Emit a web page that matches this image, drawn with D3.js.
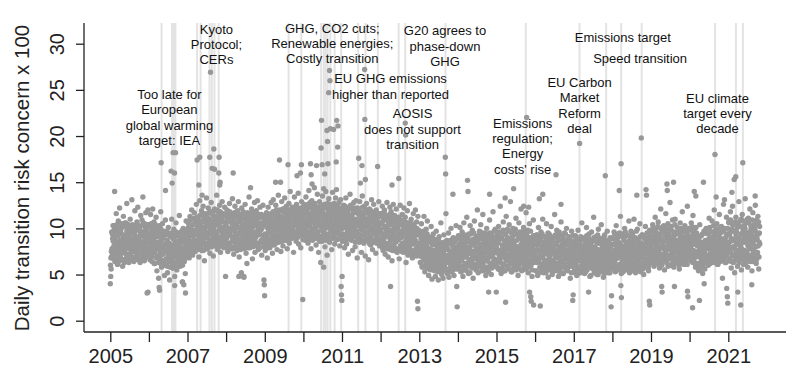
<!DOCTYPE html>
<html>
<head>
<meta charset="utf-8">
<script src="https://cdn.jsdelivr.net/npm/d3@7"></script>
<style>
body { margin: 0; background: #fff; }
text { font-family: "Liberation Sans", Arial, sans-serif; }
</style>
</head>
<body>
<script>
// daily concern values (one sample every ~4 days, per year)
var v2005 = [4.0,4.8,5.6,6.9,7.8,9.4,7.1,8.6,10.3,7.5,8.9,6.4,9.7,8.2,11.6,7.7,8.5,6.1,9.2,10.8,7.3,8.0,12.2,8.7,6.8,9.5,7.9,10.1,8.3,5.9,9.0,11.3,7.6,8.8,6.6,10.6,9.3,7.2,8.1,12.7,9.8,7.0,8.4,10.4,6.3,9.1,7.8,11.0,8.6,7.4,9.6,13.1,8.2,6.9,10.2,8.9,7.5,9.4,11.9,8.0,6.7,9.9,8.5,10.7,7.7,12.3,9.0,7.1,8.7,10.0,6.5,9.5,11.4,8.3,7.6,10.9,9.2,13.4,8.1,7.3,9.7,10.5,8.8,6.8,11.7,9.4,7.9,10.3,8.6,12.0,9.1];
var v2006 = [8.9,10.4,7.6,9.2,11.5,8.1,6.9,9.8,8.4,12.1,7.3,9.0,10.7,8.6,6.2,9.5,7.8,11.2,8.3,5.4,9.1,7.0,10.2,4.6,8.5,6.6,9.7,7.4,11.8,8.0,5.8,8.8,10.5,7.2,6.4,9.3,7.9,4.9,8.2,10.9,7.5,6.1,9.6,8.7,5.2,7.7,10.1,6.8,8.4,4.4,7.1,9.4,6.5,8.0,11.0,7.6,5.7,8.9,6.9,9.9,7.3,4.8,8.3,6.3,10.6,7.8,5.5,8.6,7.0,9.2,6.0,7.4,11.4,8.1,5.9,7.7,9.5,6.7,8.5,4.2,7.2,10.0,8.8,6.4,9.0,7.5,5.1,8.2,10.8,7.9,9.6];
var v2007 = [8.6,7.4,10.1,8.9,6.8,9.5,11.3,8.2,7.7,9.9,12.0,8.5,7.1,10.4,9.2,8.0,11.7,9.6,7.5,10.8,8.7,12.6,9.3,7.9,10.2,11.1,8.4,6.9,9.8,13.0,10.5,8.1,9.4,11.9,7.6,10.7,9.0,12.4,8.8,10.0,6.5,9.7,11.5,8.3,10.9,13.3,9.1,7.8,10.3,12.2,9.5,8.6,11.0,7.3,10.6,9.9,12.8,8.0,10.1,11.6,9.4,7.0,10.8,8.9,12.1,9.6,11.3,8.2,10.4,13.6,9.2,7.7,10.9,11.8,8.5,9.8,12.5,10.2,7.4,11.1,9.0,10.7,12.9,8.7,9.5,11.4,7.9,10.0,12.3,9.3,10.6];
var v2008 = [10.3,8.9,12.0,9.6,7.5,11.2,10.0,8.4,12.7,9.3,10.8,7.8,11.5,9.9,8.6,13.2,10.4,9.1,7.2,11.0,9.7,12.4,8.2,10.6,9.4,11.8,7.6,10.1,8.8,12.9,9.5,6.9,10.7,11.4,8.5,9.8,5.2,12.2,10.3,8.0,9.2,11.1,4.7,10.5,8.7,12.6,9.0,7.3,10.9,6.2,11.7,9.4,8.3,10.2,13.4,9.7,7.9,11.3,10.0,8.6,12.1,9.3,6.7,10.8,11.6,8.9,9.6,12.8,7.4,10.4,9.1,11.9,8.1,10.6,13.0,9.8,7.7,11.2,9.5,10.1,12.3,8.4,9.9,11.5,7.1,10.3,8.8,12.5,9.2,10.7,8.0];
var v2009 = [9.0,7.6,10.4,8.5,11.7,9.3,6.8,10.0,12.3,8.9,9.7,11.2,7.9,10.6,8.4,12.8,9.5,11.0,7.3,10.2,13.1,9.1,8.2,11.6,10.4,9.8,12.5,8.6,10.9,7.7,11.4,9.6,13.6,10.1,8.8,12.0,9.3,11.1,7.5,10.7,12.9,9.0,10.3,8.1,11.8,10.5,9.4,13.3,8.7,11.0,10.2,12.4,9.9,7.8,11.5,10.8,9.2,12.7,8.4,10.6,14.0,9.7,11.3,8.9,10.0,12.2,9.5,11.9,7.4,10.9,13.4,9.1,10.4,11.7,8.6,12.6,10.3,9.0,11.2,13.8,8.3,10.7,12.1,9.6,11.4,7.9,10.1,12.9,9.3,11.0,8.8];
var v2010 = [11.3,9.8,12.6,10.5,8.7,11.9,13.4,10.1,9.2,12.2,10.9,8.4,11.6,14.1,10.3,9.5,12.8,11.1,7.8,10.7,13.0,9.9,11.5,8.9,12.4,10.6,14.4,9.3,11.8,10.0,8.2,12.1,10.8,13.7,9.6,11.4,7.4,10.4,12.9,9.1,11.0,6.3,12.5,10.2,8.6,13.5,11.7,9.7,5.8,10.9,12.3,8.0,11.2,14.0,9.4,10.5,7.1,12.7,11.3,9.0,13.2,10.1,8.5,11.9,10.7,12.6,9.8,7.7,11.5,13.9,10.3,9.2,12.0,10.9,8.3,11.1,13.3,9.6,10.6,12.4,8.8,11.7,10.0,9.4,12.8,11.2,8.1,10.4,13.1,9.9,11.6];
var v2011 = [10.0,8.6,11.8,9.4,12.5,10.7,7.9,11.2,9.1,13.3,10.4,8.3,11.6,9.8,12.0,7.2,10.9,11.4,9.5,13.7,10.2,8.8,12.3,11.0,9.6,7.6,11.9,10.5,12.8,9.3,10.1,8.0,11.7,13.0,9.7,10.8,6.8,12.2,10.3,9.0,11.5,8.5,12.9,10.6,9.2,11.1,7.4,10.0,13.5,9.8,11.3,8.7,10.5,12.4,9.4,7.0,11.0,10.2,12.7,8.9,10.8,9.6,11.8,6.6,10.4,12.1,9.1,11.4,8.2,10.7,13.1,9.9,7.7,11.2,10.1,12.6,8.6,9.5,11.7,10.3,7.3,12.0,9.7,10.9,8.4,11.5,9.0,12.9,10.0,8.1,11.3];
var v2012 = [9.8,11.6,8.4,10.5,12.4,9.1,7.6,10.9,8.9,12.0,10.2,7.2,11.3,9.6,8.3,12.8,10.0,9.3,6.9,11.1,9.7,8.0,12.3,10.4,8.7,11.8,9.0,6.5,10.7,9.5,12.6,8.2,10.1,11.4,7.8,9.9,8.6,12.1,10.3,7.4,9.2,11.0,8.8,10.6,6.7,9.4,12.5,8.1,10.8,9.0,7.5,11.5,9.7,8.4,10.2,12.2,7.9,9.3,11.2,8.5,6.3,10.0,9.6,11.9,8.0,7.1,10.4,9.1,12.7,8.7,9.9,7.7,11.0,8.3,10.5,6.8,9.4,11.6,8.9,7.3,10.1,9.2,12.0,8.6,7.0,10.7,9.5,8.1,11.3,7.6,9.8];
var v2013 = [8.4,7.0,9.6,6.3,8.9,10.5,7.5,5.8,8.1,9.2,6.8,11.3,7.7,5.3,8.6,7.2,9.9,6.0,8.0,10.8,6.6,7.8,4.9,9.0,7.1,5.6,8.5,6.4,10.2,7.4,4.5,8.2,6.9,9.4,5.9,7.6,6.2,8.8,4.8,7.0,9.7,6.5,5.4,8.3,7.3,4.4,6.7,9.1,5.7,7.9,6.1,10.6,7.2,5.0,8.4,6.6,4.6,7.5,9.3,6.0,8.1,5.5,7.0,11.6,6.4,8.7,5.2,7.7,6.3,9.5,4.7,7.1,8.5,5.8,6.8,10.0,7.4,5.3,8.2,6.5,9.0,6.9,4.9,7.8,8.9,6.2,7.3,10.3,5.6,8.0,7.2];
var v2014 = [7.6,9.2,5.9,8.3,6.8,10.1,7.2,5.3,8.7,6.5,9.6,7.9,4.8,8.1,10.6,6.9,7.4,9.0,5.7,8.5,7.0,11.2,6.2,8.9,7.7,5.1,9.4,6.6,8.0,10.3,7.3,5.8,8.6,6.4,9.8,7.5,4.6,8.2,7.0,10.8,6.1,8.8,7.6,5.5,9.1,6.7,12.0,7.8,5.2,8.4,7.1,9.7,6.3,8.0,10.4,5.9,7.4,8.9,6.6,11.5,7.2,5.4,8.6,9.5,6.8,7.9,4.9,8.3,10.0,6.5,7.7,9.2,5.6,8.1,7.0,10.9,6.2,8.7,7.5,5.0,9.3,6.9,8.5,11.8,7.3,6.0,8.8,7.8,9.9,6.4,8.2];
var v2015 = [7.9,6.3,9.1,8.4,5.6,10.2,7.2,8.8,6.7,12.4,7.6,5.1,8.9,9.6,6.9,7.4,10.7,6.1,8.2,7.7,5.4,9.3,8.0,11.3,6.5,7.8,9.9,5.9,8.6,7.1,10.4,6.8,8.3,12.9,7.5,5.3,9.0,7.9,6.4,10.0,8.5,6.0,7.3,9.7,5.7,8.1,11.1,7.0,8.7,6.6,9.4,4.9,7.6,10.6,8.0,6.2,8.9,7.2,12.1,6.7,8.4,9.5,5.5,7.7,10.1,6.9,8.2,7.4,5.8,9.2,11.7,6.4,8.6,7.0,9.8,5.2,8.0,7.5,10.5,6.1,8.8,7.3,6.6,9.0,4.8,7.8,8.3,10.9,6.3,7.6,8.5];
var v2016 = [7.0,8.6,5.4,9.3,6.8,7.7,4.9,8.2,10.1,6.4,7.5,8.9,5.8,7.2,9.6,6.1,8.0,6.9,11.0,7.4,5.2,8.5,6.6,9.1,7.8,5.6,8.3,10.5,6.3,7.6,8.8,4.7,7.1,9.4,6.7,8.1,5.9,7.3,10.2,6.5,8.7,5.3,7.9,9.0,6.0,7.4,11.5,6.8,8.4,5.7,7.0,9.8,6.2,8.6,7.5,4.8,8.0,6.9,9.3,5.5,7.7,10.7,6.4,8.2,7.2,5.1,8.9,6.6,7.8,9.5,6.1,7.3,5.8,8.4,10.0,6.7,7.6,5.4,8.8,7.0,9.1,6.3,7.9,4.6,8.3,6.8,9.7,7.4,5.9,8.1,7.1];
var v2017 = [6.8,8.3,5.5,7.6,9.2,6.2,7.1,4.9,8.0,6.6,9.8,7.3,5.8,8.5,6.9,7.7,5.2,8.8,6.4,10.6,7.0,5.6,8.1,7.4,6.0,9.0,6.7,8.4,5.3,7.8,10.1,6.3,7.2,8.7,5.9,6.8,9.4,7.5,4.8,8.2,6.5,7.9,9.6,5.7,7.0,8.6,6.1,11.2,7.3,5.4,8.0,6.9,9.1,6.2,7.7,5.0,8.4,7.1,9.9,6.6,7.5,5.6,8.9,6.4,7.2,10.4,5.9,8.1,6.8,7.6,4.7,8.7,6.3,9.3,7.0,5.5,8.3,7.8,6.0,9.7,6.7,7.4,5.2,8.5,7.1,6.5,9.0,7.9,5.8,8.2,6.9];
var v2018 = [7.4,8.9,5.9,7.0,9.6,6.5,8.2,5.3,7.7,10.3,6.8,7.2,8.6,5.6,7.9,9.1,6.1,8.4,6.9,11.3,7.5,5.1,8.0,6.6,9.4,7.1,5.8,8.7,7.6,10.0,6.3,8.1,7.3,5.5,9.2,6.7,7.8,8.5,6.0,10.8,7.0,5.4,8.3,7.4,9.7,6.4,8.0,6.9,5.7,8.8,7.6,11.0,6.2,7.9,9.0,5.2,7.3,8.6,6.6,9.9,7.1,5.9,8.4,7.7,6.3,10.5,7.0,8.2,5.6,7.5,9.3,6.8,8.0,7.2,5.0,8.9,6.5,7.8,10.2,6.1,8.5,7.4,9.5,6.7,7.9,5.8,8.7,7.1,9.8,6.4,8.1];
var v2019 = [8.3,6.6,9.7,7.5,10.4,7.0,8.8,5.9,9.1,7.8,11.2,6.8,8.5,9.5,7.3,6.2,8.9,10.7,7.6,8.1,5.7,9.4,7.2,12.1,8.6,6.5,9.9,7.9,8.3,10.2,6.9,8.0,5.5,9.6,7.4,11.6,8.7,6.3,9.0,7.7,10.5,8.2,6.7,9.3,7.1,12.8,8.4,6.0,9.8,7.6,8.9,10.9,7.0,8.1,5.8,9.2,7.5,11.0,8.6,6.4,9.5,7.8,10.1,6.9,8.3,9.7,7.3,5.6,8.8,10.6,7.2,8.0,9.4,6.6,11.8,8.5,7.7,9.1,6.1,8.2,10.3,7.4,8.9,6.8,9.6,7.9,12.4,8.4,7.0,9.0,8.6];
var v2020 = [8.5,7.1,9.8,8.0,10.6,6.7,9.2,7.6,11.4,8.3,6.4,9.5,7.3,8.8,5.8,10.1,7.0,8.6,6.2,9.0,7.5,5.4,8.2,6.9,10.4,7.7,5.9,8.5,6.6,9.3,7.2,5.1,8.0,6.5,9.7,7.4,5.6,8.7,7.0,10.0,6.3,8.1,7.8,9.4,6.0,8.4,11.1,7.2,8.9,6.8,9.6,7.5,8.2,10.8,6.4,8.6,7.1,9.1,12.0,7.8,8.3,6.7,9.9,7.4,10.5,8.0,6.1,9.2,7.7,8.8,11.5,7.0,8.4,9.5,6.5,10.2,7.9,8.7,6.9,9.8,12.6,7.6,8.1,10.0,6.3,9.0,7.3,11.2,8.5,7.8,9.4];
var v2021 = [8.2,10.7,6.5,9.3,7.4,11.8,8.6,5.7,9.9,7.1,12.4,8.0,6.3,10.5,8.8,5.2,9.6,7.7,11.2,6.9,8.4,10.1,5.9,9.0,7.5,12.9,8.3,6.6,10.8,7.9,9.4,5.5,8.7,11.5,7.2,9.8,6.1,8.5,10.3,7.6,13.2,8.9,6.8,9.5,7.3,11.0,5.8,8.1,10.6,7.0,9.2,12.1,6.4,8.6,10.0,7.8,5.4,9.7,11.7,8.3,6.7,10.4,7.5,9.1,12.5,8.0,6.2,10.9,8.8,7.4,11.3,9.4,5.6,8.5,10.2];

// the in-between days (same reading, offset by two days)
var b2005 = [6.0,6.8,7.5,9.6,7.0,8.9,10.3,6.7,8.1,9.9,7.3,10.1,8.5,6.5,9.2,10.4,7.8,6.9,9.5,8.2,6.4,10.0,8.7,7.1,9.8,7.6,10.5,8.0,6.6,9.3,7.4,10.2,8.6,6.3,9.0,7.7,10.6,8.3,6.8,9.7,7.2,10.3,8.8,6.5,9.4,7.9,10.1,7.0,8.4,9.9,6.7,8.9,10.4,7.5,8.1,6.4,9.6,7.8,10.2,8.6,6.9,9.1,7.3,10.5,8.2,6.6,9.8,7.6,10.0,8.7,6.3,9.3,7.9,10.3,8.0,6.8,9.5,7.2,10.6,8.5,6.5,9.0,7.7,10.1,8.3,7.0,9.7,7.4,10.4,8.9,7.6];
var b2006 = [8.5,10.2,6.6,9.4,7.3,10.5,8.0,6.4,9.8,7.7,10.1,8.7,6.2,9.1,7.5,10.4,8.2,6.8,9.6,7.0,10.0,8.4,6.3,9.2,7.8,10.3,6.9,8.6,9.9,6.1,8.1,9.5,7.2,6.5,9.0,7.6,9.7,6.0,8.3,9.3,6.7,7.9,9.6,5.9,8.5,7.1,9.4,6.4,8.0,9.1,5.8,7.4,9.5,6.6,8.2,6.1,9.0,7.7,5.7,8.8,6.9,9.3,6.3,7.5,9.6,5.9,8.1,7.0,9.2,6.5,8.4,7.8,9.5,6.2,7.2,8.9,6.7,9.7,7.6,6.0,8.6,7.3,9.4,6.4,8.0,7.1,9.8,6.8,8.7,7.4,9.1];
var b2007 = [8.8,10.6,7.2,9.5,8.1,10.9,7.6,9.9,8.5,11.0,7.4,9.2,10.4,7.9,8.7,11.1,7.5,9.8,8.3,10.7,7.8,9.4,11.2,8.0,10.0,7.7,10.8,8.9,9.6,11.4,8.2,10.3,7.9,9.1,11.5,8.6,10.1,7.6,11.0,9.3,8.4,11.6,9.7,8.1,10.5,7.8,11.3,9.0,10.2,8.3,11.7,9.5,8.0,10.9,8.7,11.8,9.9,8.2,10.6,9.2,11.4,8.5,10.0,11.9,8.1,9.6,11.1,8.8,10.4,9.3,12.0,8.4,10.7,9.0,11.5,8.0,10.2,11.8,8.9,9.7,11.2,8.3,10.8,9.4,11.6,8.6,10.1,9.1,11.3,8.2,10.5];
var b2008 = [10.0,11.6,8.4,10.9,7.9,11.2,9.3,8.2,11.8,9.6,10.7,8.0,11.4,9.1,10.4,7.8,11.0,9.8,8.6,11.7,10.2,8.3,9.5,11.3,7.9,10.6,9.0,11.9,8.5,10.1,9.4,11.1,8.1,10.8,7.7,9.7,11.5,8.8,10.3,9.2,11.8,8.4,10.0,7.8,11.2,9.5,8.9,10.6,11.4,8.2,9.9,10.9,7.9,9.3,11.6,8.7,10.4,9.1,11.0,8.3,10.7,9.6,11.8,8.0,10.2,9.4,11.3,8.6,10.5,9.0,11.7,8.1,10.8,9.7,11.1,8.4,10.1,9.3,11.5,7.9,10.6,9.8,8.7,11.2,10.0,8.5,11.4,9.2,10.3,8.8,11.0];
var b2009 = [9.4,11.0,8.1,10.3,8.7,11.4,9.0,7.9,10.8,9.7,11.3,8.4,10.1,8.9,11.6,9.5,8.2,10.7,9.2,11.8,8.6,10.4,9.9,11.2,8.3,10.9,9.3,12.0,8.8,10.5,9.6,11.5,8.5,10.2,9.1,11.9,8.9,10.8,9.7,11.3,8.6,10.0,12.1,9.4,11.0,8.8,10.6,9.9,12.2,9.2,11.4,8.7,10.3,11.7,9.5,10.9,8.9,12.0,9.8,11.1,10.2,9.0,11.8,10.5,9.3,12.3,10.0,11.5,9.1,10.7,12.1,9.6,11.2,10.4,9.4,12.4,10.8,9.7,11.6,10.1,9.2,12.0,10.6,11.3,9.5,10.9,12.2,9.8,11.0,10.3,11.7];
var b2010 = [10.9,12.4,9.4,11.6,8.9,12.1,10.2,11.8,9.1,10.7,12.6,9.6,11.3,8.8,12.2,10.4,11.0,9.3,12.5,10.0,11.7,8.7,10.8,12.0,9.5,11.4,10.1,12.7,9.0,11.1,10.5,8.9,12.3,10.3,11.5,9.2,11.9,10.6,8.6,11.2,12.4,9.8,10.9,8.8,12.1,10.2,11.6,9.4,10.7,12.6,9.1,11.3,10.0,8.7,12.2,10.8,11.5,9.3,12.0,10.4,9.0,11.8,10.6,12.5,9.6,11.1,8.9,12.3,10.3,11.4,9.7,10.9,12.7,9.2,11.6,10.1,8.8,12.0,10.5,11.2,9.5,12.4,10.7,9.9,11.7,8.9,12.1,10.4,11.0,9.3,11.5];
var b2011 = [10.5,12.2,9.0,11.4,8.6,11.8,10.1,12.4,9.3,10.8,8.8,12.0,10.4,9.6,11.6,8.9,12.3,10.2,11.1,9.2,12.5,10.7,8.7,11.3,9.8,12.1,10.0,11.7,9.1,10.6,12.2,8.5,11.0,9.7,11.9,10.3,8.9,12.0,10.9,9.4,11.5,8.6,10.4,11.8,9.9,8.8,11.2,10.1,12.3,9.3,10.7,8.4,11.6,9.6,10.2,12.0,8.9,11.0,9.5,11.7,10.4,8.6,10.9,9.8,11.4,8.3,10.6,9.1,11.9,10.0,8.7,11.2,9.4,10.8,8.5,11.5,9.9,10.3,8.8,11.8,9.2,10.7,8.4,11.1,9.7,10.1,8.9,11.6,9.5,10.5,8.7];
var b2012 = [9.9,11.6,8.3,10.7,7.9,11.2,9.4,8.6,11.8,10.1,8.0,10.9,9.2,11.4,7.8,10.3,9.7,11.0,8.4,10.6,9.0,11.5,7.7,9.8,10.5,8.2,11.1,9.3,7.6,10.8,8.9,11.3,9.6,7.9,10.2,8.5,11.0,9.1,7.5,10.6,8.7,9.9,11.2,7.8,9.4,10.4,8.1,9.0,10.9,7.6,9.7,8.4,10.5,7.4,9.3,10.1,8.0,9.6,10.7,7.7,8.8,10.3,7.3,9.2,8.5,10.6,7.9,9.5,8.2,10.0,7.2,8.9,9.8,7.6,8.6,10.4,7.4,9.1,8.3,10.2,7.1,8.7,9.6,7.8,8.4,10.0,7.5,9.3,8.0,9.7,7.2];
var b2013 = [7.9,9.5,6.3,8.4,7.0,9.2,5.9,8.1,7.4,9.7,6.6,8.7,5.8,7.6,9.0,6.2,8.3,7.1,9.4,5.7,7.8,6.5,8.9,6.0,7.3,8.6,5.5,7.7,6.8,9.1,5.9,7.0,8.4,6.3,7.5,5.4,8.8,6.7,7.2,5.6,8.2,6.1,7.9,5.3,7.4,6.6,8.6,5.8,7.1,6.4,8.3,5.2,7.6,6.9,5.5,8.0,6.2,7.3,8.5,5.7,6.8,7.7,5.4,8.1,6.5,7.0,5.1,7.8,6.3,8.4,5.6,7.2,6.6,8.7,5.3,7.5,6.0,8.2,6.9,5.5,7.9,6.4,8.5,5.8,7.1,6.7,8.8,5.9,7.4,6.2,8.0];
var b2014 = [7.0,8.9,5.6,8.1,6.4,9.2,7.5,5.3,8.6,6.8,9.0,5.9,7.7,8.4,5.5,7.2,9.3,6.2,8.0,6.9,5.4,8.7,7.4,9.1,6.0,7.9,6.6,8.5,5.2,7.6,9.4,6.3,8.2,7.1,5.7,8.8,6.7,9.5,7.3,5.8,8.3,6.1,9.0,7.8,5.5,8.6,6.9,9.2,6.4,7.5,8.9,5.9,7.0,9.6,6.6,8.1,5.4,7.7,9.3,6.2,8.4,7.2,5.6,9.0,6.8,8.7,7.4,5.8,9.4,6.5,8.0,7.6,5.3,8.8,6.9,9.5,7.1,6.0,8.5,7.8,5.7,9.1,6.3,8.2,7.3,9.7,6.7,7.9,5.9,8.6,7.5];
var b2015 = [7.4,9.3,5.8,8.5,6.6,9.6,7.1,5.5,8.9,6.3,9.1,7.7,5.7,8.2,6.9,9.8,6.0,7.9,8.7,5.4,7.3,9.4,6.5,8.4,7.0,5.9,9.0,6.7,8.1,9.7,5.6,7.6,8.8,6.2,7.2,9.5,5.3,8.3,6.8,9.2,7.5,5.8,8.6,6.4,9.9,7.8,5.5,8.0,6.9,9.3,7.3,6.1,8.9,5.7,7.7,9.6,6.6,8.2,7.0,5.4,9.1,6.3,8.5,7.4,9.8,5.9,7.9,6.7,8.8,5.6,7.5,9.4,6.2,8.1,7.2,5.8,9.0,6.5,8.4,7.7,9.7,6.0,7.1,8.6,5.5,8.0,6.8,9.2,7.4,6.4,8.3];
var b2016 = [7.1,8.9,5.4,8.2,6.3,9.3,7.6,5.1,8.5,6.7,9.0,5.8,7.4,8.7,5.3,6.9,9.4,6.1,7.9,8.3,5.6,7.2,9.1,6.5,8.0,5.2,7.7,8.8,6.0,7.3,9.5,5.5,8.4,6.6,7.0,9.2,5.7,7.8,6.2,8.6,5.0,7.5,9.0,6.4,8.1,5.9,7.1,9.3,5.4,8.3,6.8,7.6,5.6,8.9,6.1,7.4,9.6,5.3,8.0,6.6,7.2,8.7,5.8,7.9,6.3,9.1,5.1,7.7,8.5,6.0,7.0,9.4,5.5,8.2,6.9,7.5,5.7,8.8,6.4,7.3,9.0,5.9,8.1,6.7,7.8,5.2,8.6,6.2,7.4,9.2,6.5];
var b2017 = [6.7,8.6,5.2,7.9,6.0,8.9,7.3,5.0,8.2,6.5,8.7,5.6,7.1,8.4,5.3,6.8,9.1,5.9,7.6,8.0,5.4,6.9,8.8,6.2,7.7,5.1,7.4,8.5,5.7,7.0,9.2,5.5,8.1,6.4,6.7,8.9,5.8,7.5,6.1,8.3,4.9,7.2,8.7,6.3,7.8,5.6,6.9,9.0,5.2,8.0,6.6,7.3,5.4,8.6,5.9,7.1,9.3,5.0,7.7,6.4,7.0,8.4,5.5,7.6,6.0,8.8,5.3,7.4,8.2,5.8,6.8,9.1,5.1,7.9,6.6,7.2,5.7,8.5,6.2,7.0,8.7,5.6,7.8,6.5,7.5,5.2,8.3,6.1,7.3,8.9,6.3];
var b2018 = [7.2,9.0,5.6,8.3,6.3,9.4,7.6,5.4,8.7,6.7,9.1,5.9,7.4,8.5,5.5,7.0,9.5,6.1,7.9,8.2,5.7,7.3,9.2,6.5,8.0,5.3,7.7,8.9,6.0,7.1,9.6,5.8,8.4,6.6,6.9,9.3,5.6,7.8,6.2,8.6,5.2,7.5,9.0,6.4,8.1,5.9,7.2,9.4,5.4,8.3,6.8,7.6,5.7,8.8,6.1,7.4,9.7,5.5,8.0,6.7,7.1,8.7,5.8,7.9,6.3,9.1,5.3,7.7,8.4,6.0,7.0,9.3,5.6,8.2,6.9,7.5,5.9,8.9,6.4,7.3,9.0,5.8,8.1,6.6,7.8,5.4,8.6,6.2,7.6,9.2,6.8];
var b2019 = [7.9,9.8,6.3,9.0,7.0,10.1,8.4,6.1,9.5,7.4,9.9,6.6,8.2,9.3,6.2,7.7,10.2,6.9,8.7,9.1,6.4,8.0,10.0,7.2,8.8,6.0,8.5,9.7,6.8,7.8,10.3,6.5,9.2,7.3,7.6,10.1,6.3,8.6,6.9,9.4,5.9,8.3,9.8,7.1,8.9,6.7,7.9,10.2,6.1,9.0,7.5,8.4,6.4,9.6,6.8,8.1,10.4,6.2,8.7,7.4,7.8,9.5,6.5,8.6,7.0,9.9,6.0,8.5,9.2,6.7,7.7,10.0,6.3,8.9,7.6,8.2,6.6,9.7,7.1,8.0,9.8,6.5,8.8,7.3,8.5,6.1,9.3,6.9,8.3,10.0,7.5];
var b2020 = [8.1,10.0,6.5,9.1,7.2,10.2,8.6,6.3,9.6,7.6,9.8,6.8,8.3,9.3,5.9,7.4,9.5,6.2,8.1,8.6,5.6,7.0,9.0,6.1,7.8,5.5,7.3,9.2,6.4,7.7,9.4,6.0,8.4,6.7,7.5,9.7,6.3,8.6,7.1,9.5,6.5,8.2,10.0,7.0,8.8,6.6,7.9,10.1,6.2,9.0,7.4,8.3,6.5,9.6,6.9,8.0,10.3,6.3,8.7,7.3,7.8,9.5,6.6,8.5,7.1,9.9,6.1,8.4,9.2,6.8,7.7,10.1,6.4,8.9,7.5,8.2,6.7,9.8,7.2,8.0,9.7,6.6,8.8,7.4,8.5,6.3,9.3,7.0,8.3,10.0,7.6];
var b2021 = [8.4,10.6,6.7,9.5,7.5,10.9,8.9,6.4,9.9,7.9,10.4,7.0,8.7,9.7,6.5,8.1,10.7,7.3,9.2,9.6,6.8,8.3,10.5,7.6,9.0,6.3,8.8,10.2,7.1,8.0,11.0,6.9,9.4,7.7,8.5,10.8,6.6,9.1,7.2,10.0,6.2,8.6,10.6,7.4,9.3,6.9,8.2,11.1,6.5,9.6,7.8,8.9,6.7,10.3,7.1,8.4,10.9,6.4,9.2,7.5,8.7,10.1,6.8,9.8,7.3,10.5,6.6,9.0,9.4,7.0,8.1,10.7,6.9,9.5,8.3];

var years = [2005,2006,2007,2008,2009,2010,2011,2012,2013,2014,2015,2016,2017,2018,2019,2020,2021];
var lastDay = "2021-10-28";

// single days far above or below the bulk
var spikes = [
  ["2005-02-11",14.0],["2005-12-15",3.0],["2005-12-24",3.1],["2006-04-08",3.6],["2006-04-12",3.3],
  ["2006-04-27",17.1],["2006-06-07",14.1],["2006-07-30",16.2],["2006-08-09",14.9],["2006-08-18",18.2],
  ["2006-08-31",16.0],["2006-09-10",18.2],["2006-09-02",3.8],["2006-11-15",4.2],["2006-11-27",3.9],
  ["2006-12-13",3.0],["2007-04-02",17.4],["2007-04-18",14.7],["2007-04-27",17.7],["2007-05-19",13.6],
  ["2007-07-31",17.7],["2007-08-07",26.9],["2007-08-22",16.5],["2007-09-07",18.6],["2007-09-13",16.4],
  ["2007-10-24",16.0],["2007-10-27",17.7],["2007-11-02",14.7],["2007-11-05",15.0],["2007-12-27",4.8],
  ["2008-03-08",16.0],["2008-05-01",4.8],["2008-06-17",4.8],["2008-08-19",14.4],["2008-12-24",4.4],
  ["2008-12-27",3.9],["2008-12-30",2.7],["2009-04-13",15.0],["2009-05-20",17.4],["2009-05-30",15.0],
  ["2009-08-09",16.9],["2009-11-02",15.7],["2009-12-04",16.0],["2009-12-13",16.9],["2009-12-26",2.3],
  ["2010-03-09",17.0],["2010-03-15",15.8],["2010-03-24",14.8],["2010-05-05",16.8],["2010-06-17",18.7],
  ["2010-06-21",21.7],["2010-06-27",16.9],["2010-07-12",14.3],["2010-07-22",15.9],["2010-08-12",20.6],
  ["2010-08-17",19.4],["2010-08-21",17.0],["2010-08-28",24.7],["2010-09-05",27.1],["2010-09-09",26.0],
  ["2010-09-13",20.8],["2010-10-14",20.7],["2010-11-07",17.2],["2010-11-10",14.2],["2010-11-12",21.7],
  ["2010-11-21",18.8],["2010-11-24",21.1],["2010-12-24",3.7],["2010-12-27",2.8],["2010-12-30",2.2],
  ["2011-01-02",4.8],["2011-06-08",17.6],["2011-06-24",14.9],["2011-07-09",16.8],["2011-08-03",27.2],
  ["2011-08-05",21.8],["2011-08-10",15.3],["2011-12-04",16.7],["2012-04-04",3.7],["2012-04-18",14.7],
  ["2012-06-21",15.4],["2012-08-21",21.4],["2012-08-25",20.1],["2012-12-15",2.1],["2012-12-19",1.3],
  ["2013-09-04",17.7],["2013-09-07",15.9],["2013-11-15",13.7],["2013-12-21",3.7],["2013-12-25",1.5],
  ["2014-04-02",15.2],["2014-04-06",14.0],["2014-10-19",3.1],["2014-10-28",13.7],["2014-12-30",3.1],
  ["2015-03-24",13.3],["2015-03-28",2.0],["2015-06-12",14.3],["2015-09-15",12.4],["2015-10-13",22.0],
  ["2015-11-01",12.3],["2015-11-10",3.1],["2015-11-21",2.6],["2015-11-25",2.1],["2015-12-18",1.7],
  ["2016-02-10",13.2],["2016-02-19",1.6],["2016-03-14",13.7],["2016-07-17",15.8],["2016-09-02",12.6],
  ["2016-12-22",2.2],["2016-12-26",2.8],["2017-02-25",19.2],["2017-05-21",3.1],["2017-10-26",15.7],
  ["2017-12-20",1.5],["2017-12-24",2.7],["2018-03-07",14.1],["2018-03-24",17.0],["2018-03-22",3.8],
  ["2018-03-27",2.5],["2018-08-20",13.6],["2018-10-01",19.8],["2018-11-15",14.2],["2018-11-19",13.6],
  ["2018-12-16",2.1],["2018-12-20",1.7],["2019-04-12",3.7],["2019-04-16",3.1],["2019-06-01",14.8],
  ["2019-06-04",14.1],["2019-08-02",15.0],["2019-08-11",3.7],["2019-12-12",3.2],["2019-12-16",2.6],
  ["2020-01-29",1.4],["2020-02-14",14.0],["2020-02-29",13.5],["2020-04-03",2.2],["2020-05-11",15.0],
  ["2020-05-18",4.0],["2020-08-28",18.0],["2020-09-08",13.4],["2020-11-07",4.6],["2020-11-26",13.1],
  ["2020-12-17",3.5],["2020-12-23",2.6],["2020-12-27",1.9],["2021-02-04",13.9],["2021-02-26",15.3],
  ["2021-03-13",15.6],["2021-04-01",3.1],["2021-04-29",1.7],["2021-05-18",17.1],["2021-08-11",3.9],
  ["2021-09-12",13.5]
];

// dated news events (grey verticals)
var events = ["2006-05-01","2006-08-08","2006-08-26","2006-09-09","2007-04-02","2007-05-05",
  "2007-07-28","2007-08-19","2007-09-13","2007-10-23","2009-08-14","2009-12-12","2010-06-18",
  "2010-07-13","2010-07-31","2010-08-18","2010-09-13","2010-10-23","2010-12-24","2011-06-03",
  "2011-08-11","2011-12-06","2012-06-20","2012-08-21","2013-09-06","2015-10-05","2017-02-24",
  "2017-11-03","2018-03-25","2018-10-05","2020-08-29","2021-03-14","2021-05-19"];

// annotation text
var noteText = [
  ["Too late for","European","global warming","target: IEA"],
  ["Kyoto","Protocol;","CERs"],
  ["GHG, CO2 cuts;","Renewable energies;","Costly transition"],
  ["G20 agrees to","phase-down","GHG"],
  ["EU GHG emissions","higher than reported"],
  ["AOSIS","does not support","transition"],
  ["Emissions","regulation;","Energy","costs' rise"],
  ["EU Carbon","Market","Reform","deal"],
  ["Emissions target"],
  ["Speed transition"],
  ["EU climate","target every","decade"]
];
// where each note sits (date of centre, value of first baseline)
var noteAt = [
  ["2006-07-14",24.0],["2007-10-02",31.1],["2010-10-01",31.2],["2013-09-01",30.9],
  ["2012-04-04",25.7],["2012-10-29",21.9],["2015-09-05",20.9],["2017-02-25",25.3],
  ["2018-04-10",30.15],["2018-09-20",27.95],["2020-09-21",23.6]
];

var parseTime = d3.timeParse("%Y-%m-%d");

var W = 800, H = 377;
var plotTop = 23, plotBottom = 332, plotLeft = 84, plotRight = 786;

var x = d3.scaleTime()
    .domain([new Date(2005, 0, 1), new Date(2021, 0, 1)])
    .range([110.3, 728.3]);
var y = d3.scaleLinear().domain([0, 30]).range([320.7, 43.7]);

// build the point list
var data = [];
function addYears(list, shift) {
    list.forEach(function(vals, k) {
        var start = new Date(years[k], 0, 1);
        var end = k == list.length - 1 ? parseTime(lastDay) : new Date(years[k] + 1, 0, 1);
        var span = d3.timeDay.count(start, end);
        vals.forEach(function(v, i) {
            var day = Math.min(span - 1, Math.floor(i * span / vals.length) + shift);
            data.push({date: d3.timeDay.offset(start, day), value: v});
        });
    });
}
addYears([v2005,v2006,v2007,v2008,v2009,v2010,v2011,v2012,v2013,v2014,v2015,v2016,v2017,v2018,v2019,v2020,v2021], 0);
addYears([b2005,b2006,b2007,b2008,b2009,b2010,b2011,b2012,b2013,b2014,b2015,b2016,b2017,b2018,b2019,b2020,b2021], 2);
spikes.forEach(function(s) { data.push({date: parseTime(s[0]), value: s[1]}); });

var svg = d3.select("body").append("svg")
    .attr("width", W)
    .attr("height", H);

// event lines
svg.append("g").selectAll("line").data(events).enter().append("line")
    .attr("x1", function(d) { return x(parseTime(d)); })
    .attr("x2", function(d) { return x(parseTime(d)); })
    .attr("y1", plotTop)
    .attr("y2", plotBottom)
    .style("stroke", "#e3e3e3")
    .style("stroke-width", 2);

// points
svg.append("g").selectAll("circle").data(data).enter().append("circle")
    .attr("cx", function(d) { return x(d.date); })
    .attr("cy", function(d) { return y(d.value); })
    .attr("r", 2.7)
    .style("fill", "#989898");

// notes
var notes = svg.append("g").style("font-size", "13px").style("fill", "#111")
    .attr("text-anchor", "middle");
noteText.forEach(function(lines, k) {
    var cx = x(parseTime(noteAt[k][0])), by = y(noteAt[k][1]);
    var t = notes.append("text").attr("x", cx).attr("y", by);
    lines.forEach(function(l, i) {
        t.append("tspan").attr("x", cx).attr("y", by + i * 15.3).text(l);
    });
});

// y axis
var yAxis = svg.append("g")
    .attr("transform", "translate(" + plotLeft + ",0)")
    .call(d3.axisLeft(y).tickValues([0, 5, 10, 15, 20, 25, 30]).tickSize(8));
yAxis.select(".domain").remove();
yAxis.selectAll("line").style("stroke", "#222").style("stroke-width", 1.3);
yAxis.selectAll("text")
    .attr("x", null).attr("dy", null)
    .attr("text-anchor", "middle")
    .attr("transform", "translate(-20.5,0) rotate(-90)")
    .style("font-size", "20px")
    .style("font-family", "Liberation Sans, Arial, sans-serif")
    .style("fill", "#222");
svg.append("line")
    .attr("x1", plotLeft).attr("x2", plotLeft)
    .attr("y1", plotTop).attr("y2", plotBottom)
    .style("stroke", "#222").style("stroke-width", 1.3);

// x axis
var xAxis = svg.append("g")
    .attr("transform", "translate(0," + plotBottom + ")")
    .call(d3.axisBottom(x).ticks(d3.timeYear.every(1)).tickSize(10)
        .tickFormat(function(d) { var yr = d.getFullYear(); return yr % 2 == 1 ? yr : ""; }));
xAxis.select(".domain").remove();
xAxis.selectAll("line").style("stroke", "#222").style("stroke-width", 1.3);
xAxis.selectAll("text")
    .attr("y", 31).attr("dy", null)
    .style("font-size", "20px")
    .style("font-family", "Liberation Sans, Arial, sans-serif")
    .style("fill", "#222");
svg.append("line")
    .attr("x1", plotLeft).attr("x2", plotRight)
    .attr("y1", plotBottom).attr("y2", plotBottom)
    .style("stroke", "#222").style("stroke-width", 1.3);

// y axis title
svg.append("text")
    .attr("transform", "translate(28.5,178) rotate(-90)")
    .attr("text-anchor", "middle")
    .style("font-size", "20.5px")
    .style("fill", "#222")
    .text("Daily transition risk concern x 100");
</script>
</body>
</html>
